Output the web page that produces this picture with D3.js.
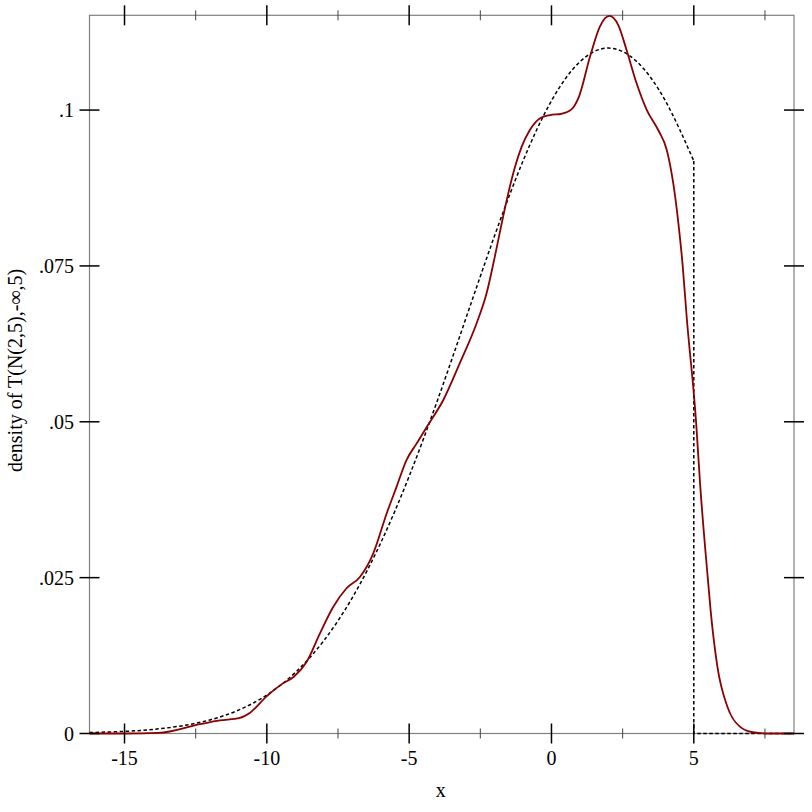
<!DOCTYPE html>
<html>
<head>
<meta charset="utf-8">
<script src="https://cdn.jsdelivr.net/npm/d3@7"></script>
<style>
  body { margin: 0; background: #fff; }
  text { font-family: "Liberation Serif", "DejaVu Serif", serif; font-size: 20px; fill: #000; }
</style>
</head>
<body>
<script>
// sample density (red)
const redX = [-16.23, -15.0, -13.8, -12.35, -11.65, -10.95, -10.6, -10.0, -9.45, -9.05, -8.6, -8.13, -7.67, -7.2, -6.73, -6.26, -5.79, -5.44, -5.09, -4.74, -4.35, -3.8, -3.22, -2.63, -2.28, -1.99, -1.75, -1.52, -1.28, -1.05, -0.76, -0.4, -0.05, 0.35, 0.7, 0.97, 1.35, 1.7, 2.03, 2.35, 2.64, 2.99, 3.35, 3.75, 4.05, 4.28, 4.46, 4.61, 4.75, 5.08, 5.22, 5.49, 5.59, 5.83, 6.18, 6.62, 7.07, 7.6, 8.52];
const redY = [0, 0, 0.0001, 0.0015, 0.0021, 0.0025, 0.0033, 0.0060, 0.0080, 0.0091, 0.0115, 0.0161, 0.0203, 0.0233, 0.0251, 0.0289, 0.0353, 0.0396, 0.0439, 0.0465, 0.0494, 0.0535, 0.0594, 0.0658, 0.0706, 0.0765, 0.0818, 0.0866, 0.0909, 0.0941, 0.0968, 0.0987, 0.0992, 0.0994, 0.1001, 0.1022, 0.1085, 0.1134, 0.1151, 0.1136, 0.1096, 0.1043, 0.1000, 0.0968, 0.0936, 0.0882, 0.0818, 0.0750, 0.0668, 0.0500, 0.0401, 0.0250, 0.0198, 0.0107, 0.0043, 0.0011, 0.0002, 0, 0];

// truncated normal density (dashed)
const normX = [-16.23, -15, -14, -13, -12, -11, -10, -9, -8, -7, -6, -5, -4, -3, -2, -1, 0, 1, 2, 3, 4, 5];
const normY = [0.00015, 0.00034, 0.00066, 0.00122, 0.00218, 0.00374, 0.00617, 0.00978, 0.01488, 0.02176, 0.03057, 0.04126, 0.05351, 0.06668, 0.07983, 0.09183, 0.10149, 0.10776, 0.10994, 0.10776, 0.10149, 0.09183];
// drop at the truncation point and the zero tail
const tailX = [5, 5, 8.52];
const tailY = [0.09183, 0, 0];

const xTicks = [-15, -10, -5, 0, 5];
const xTickLabels = ["-15", "-10", "-5", "0", "5"];
const xMinor = [-12.5, -7.5, -2.5, 2.5, 7.5];
const yTicks = [0, 0.025, 0.05, 0.075, 0.1];
const yTickLabels = ["0", ".025", ".05", ".075", ".1"];

const width = 812, height = 812;
const plotLeft = 89.5, plotRight = 794, plotTop = 15.3, plotBottom = 733.5;

const svg = d3.select("body").append("svg")
    .attr("width", width)
    .attr("height", height);

const x = d3.scaleLinear().domain([-16.23, 8.52]).range([plotLeft, plotRight]);
const y = d3.scaleLinear().domain([0, 0.1152]).range([plotBottom, plotTop]);

// frame
svg.append("rect")
    .attr("x", plotLeft).attr("y", plotTop)
    .attr("width", plotRight - plotLeft).attr("height", plotBottom - plotTop)
    .attr("fill", "none")
    .attr("stroke", "#808080")
    .attr("stroke-width", 1.2);

const line = d3.line()
    .x(d => x(d[0]))
    .y(d => y(d[1]));

// dashed reference density
svg.append("path")
    .datum(d3.zip(normX, normY))
    .attr("d", line.curve(d3.curveNatural))
    .attr("fill", "none")
    .attr("stroke", "#000")
    .attr("stroke-width", 1.5)
    .attr("stroke-dasharray", "3.5,2.5");

svg.append("path")
    .datum(d3.zip(tailX, tailY))
    .attr("d", line.curve(d3.curveLinear))
    .attr("fill", "none")
    .attr("stroke", "#000")
    .attr("stroke-width", 1.5)
    .attr("stroke-dasharray", "3.5,2.5");

// sample density
svg.append("path")
    .datum(d3.zip(redX, redY))
    .attr("d", line.curve(d3.curveMonotoneX))
    .attr("fill", "none")
    .attr("stroke", "#8b0000")
    .attr("stroke-width", 1.8);

// x ticks, top and bottom
[plotTop, plotBottom].forEach(yy => {
  svg.append("g").selectAll("line")
    .data(xTicks).join("line")
      .attr("x1", d => x(d)).attr("x2", d => x(d))
      .attr("y1", yy - 10).attr("y2", yy + 10)
      .attr("stroke", "#000").attr("stroke-width", 1.5);
  svg.append("g").selectAll("line")
    .data(xMinor).join("line")
      .attr("x1", d => x(d)).attr("x2", d => x(d))
      .attr("y1", yy - 5).attr("y2", yy + 5)
      .attr("stroke", "#444").attr("stroke-width", 1);
});

// y ticks, left and right
[plotLeft, plotRight].forEach(xx => {
  svg.append("g").selectAll("line")
    .data(yTicks).join("line")
      .attr("x1", xx - 10).attr("x2", xx + 10)
      .attr("y1", d => y(d)).attr("y2", d => y(d))
      .attr("stroke", "#000").attr("stroke-width", 1.5);
});

svg.append("g").selectAll("text")
  .data(xTicks).join("text")
    .attr("x", d => x(d))
    .attr("y", 765)
    .attr("text-anchor", "middle")
    .text((d, i) => xTickLabels[i]);

svg.append("g").selectAll("text")
  .data(yTicks).join("text")
    .attr("x", 74)
    .attr("y", d => y(d) + 7)
    .attr("text-anchor", "end")
    .text((d, i) => yTickLabels[i]);

svg.append("text")
    .attr("x", (plotLeft + plotRight) / 2 - 1)
    .attr("y", 797)
    .attr("text-anchor", "middle")
    .text("x");

svg.append("text")
    .attr("transform", `translate(22,${(plotTop + plotBottom) / 2 - 4}) rotate(-90)`)
    .attr("text-anchor", "middle")
    .text("density of T(N(2,5),-∞,5)");
</script>
</body>
</html>
